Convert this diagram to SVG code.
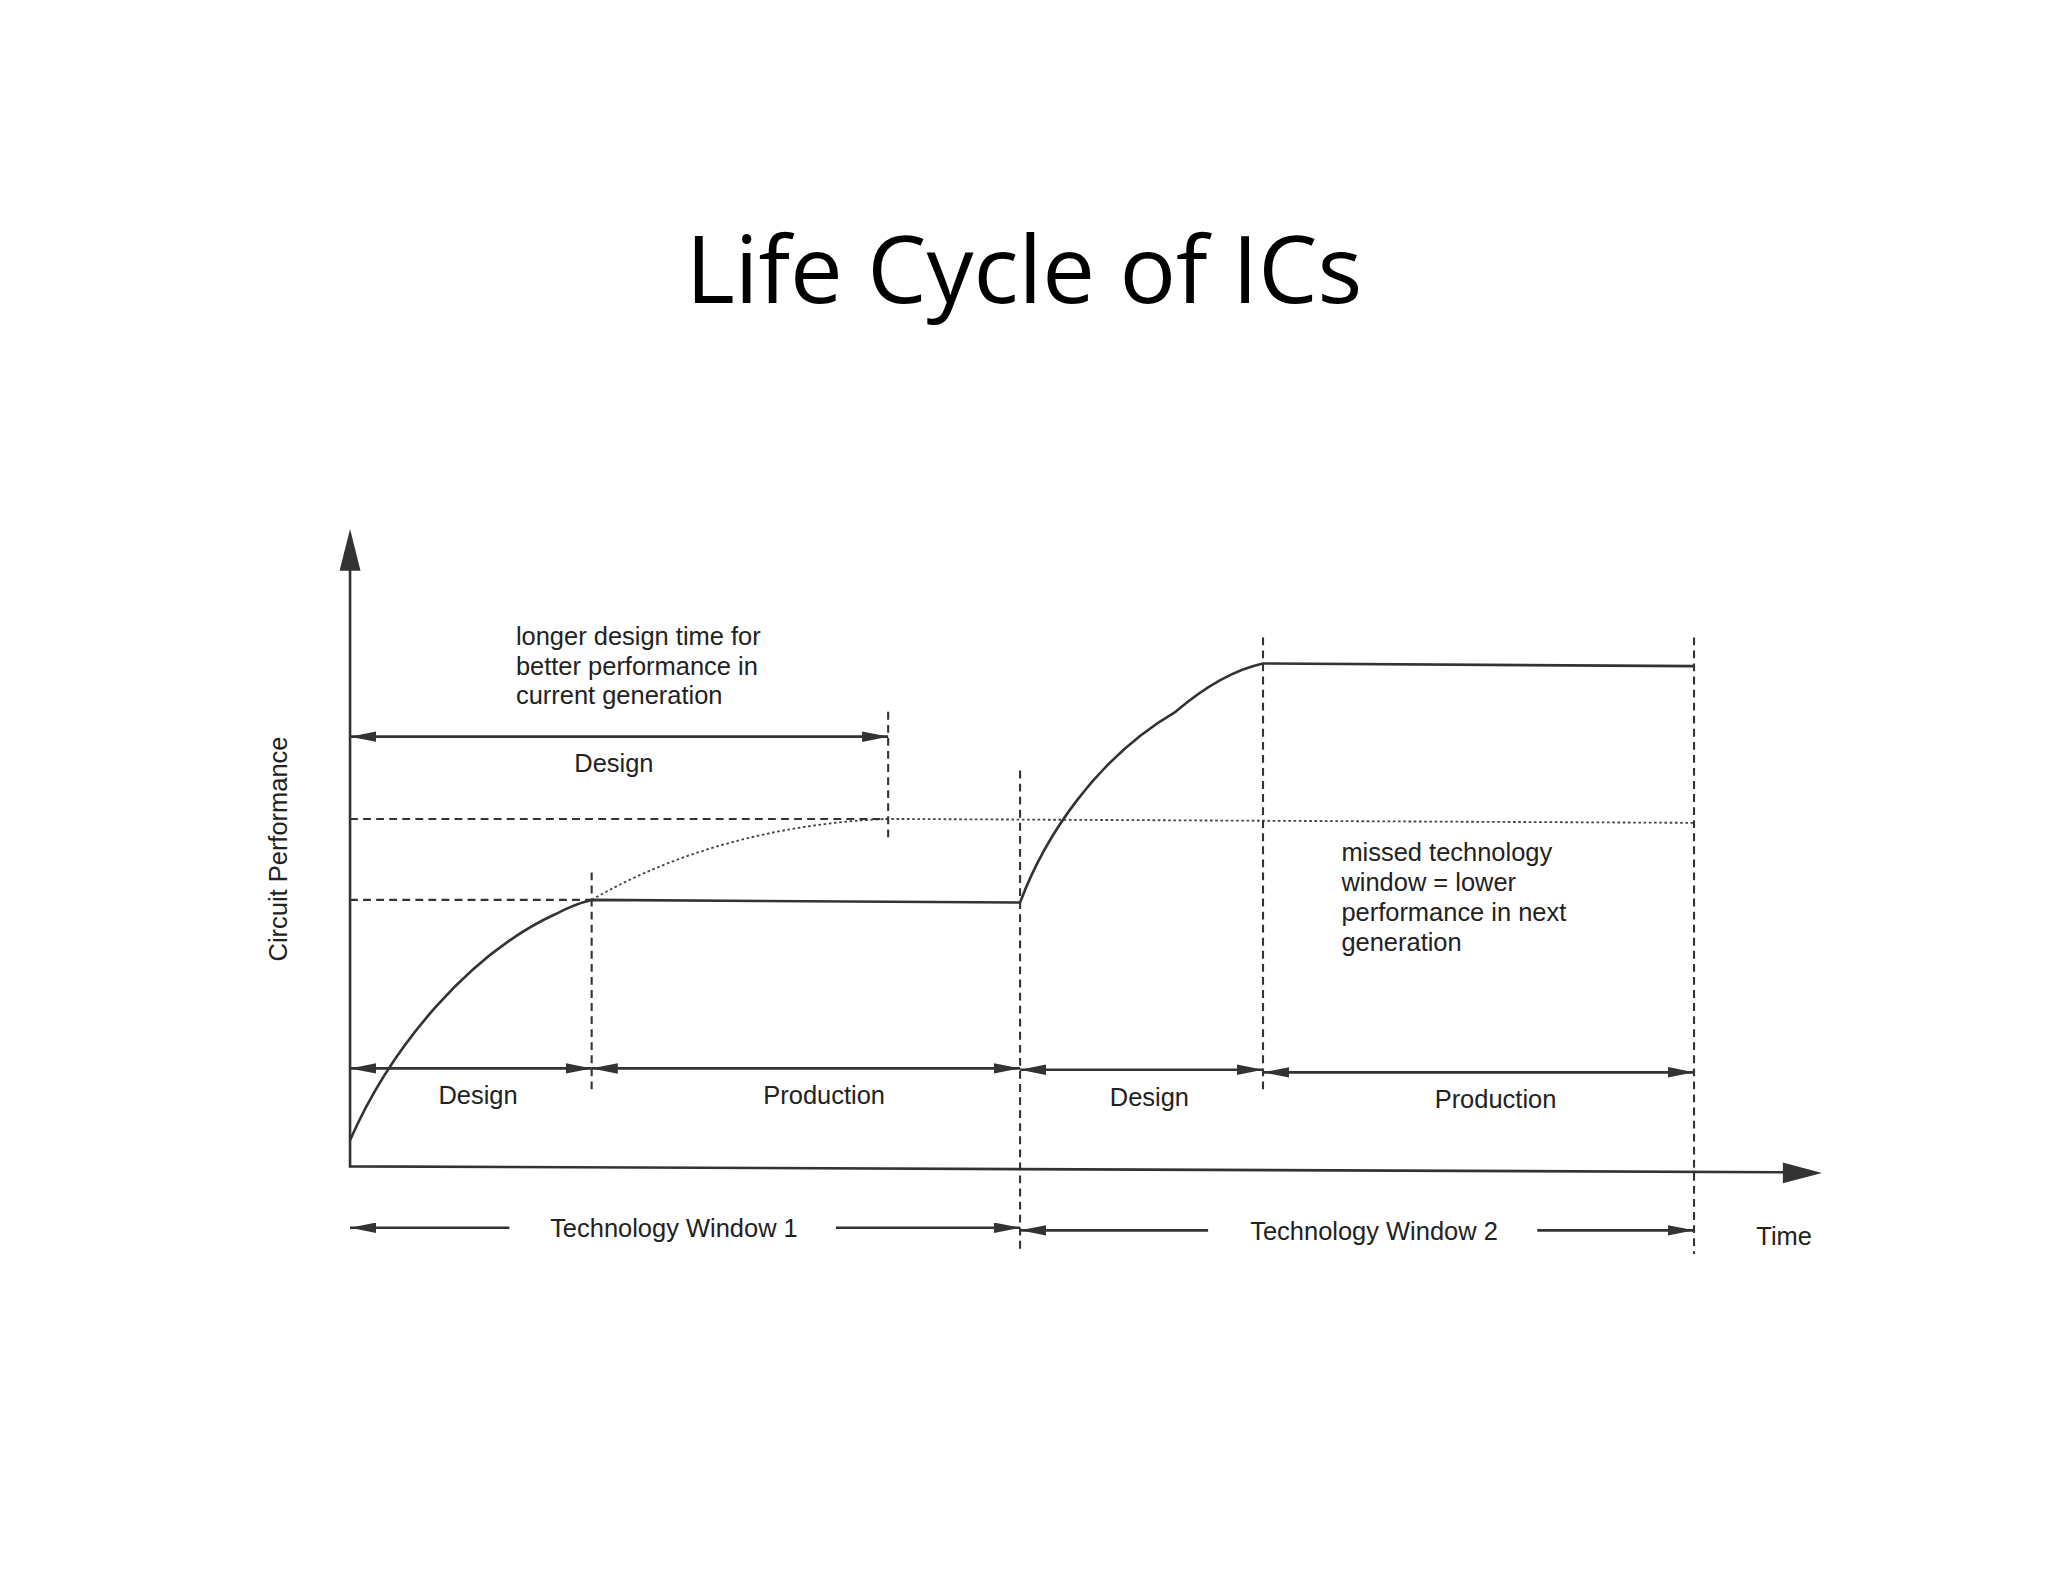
<svg xmlns="http://www.w3.org/2000/svg" width="2048" height="1582" viewBox="0 0 2048 1582">
<style>
.t{font-family:"Liberation Sans",Arial,sans-serif;font-size:19.5px;fill:#222}
.c{text-anchor:middle}
.s{stroke:#333;stroke-width:2;fill:none}
.d{stroke:#333;stroke-width:1.6;fill:none;stroke-dasharray:6,4}
.o{stroke:#444;stroke-width:1.4;fill:none;stroke-dasharray:2,2}
</style>
<defs>
<marker id="a" viewBox="0 0 20 8" refX="20" refY="4" markerWidth="20" markerHeight="8" markerUnits="userSpaceOnUse" orient="auto-start-reverse"><path d="M0,0 L20,4 L0,8 Z" fill="#333"/></marker>
<marker id="b" viewBox="0 0 16 30" refX="8" refY="0" markerWidth="16" markerHeight="30" markerUnits="userSpaceOnUse" orient="0"><path d="M8,0 L16,30 L0,30 Z" fill="#333"/></marker>
</defs>
<rect width="2048" height="1582" fill="#fff"/>
<text x="1024" y="303" text-anchor="middle" font-family="'Open Sans','Noto Sans',sans-serif" font-size="94" fill="#000">Life Cycle of ICs</text>
<g transform="scale(1.30612)">
<g id="axes">
<path class="s" d="M268,435 V893 L1370,897.5" stroke-width="2.6"/>
<path d="M268,405 L276,437 L260,437 Z" fill="#333"/>
<path d="M1395,898 L1365,890 L1365,906 Z" fill="#333"/>
<text class="t c" transform="translate(220,650) rotate(-90)" font-size="22">Circuit Performance</text>
<text class="t c" x="1366" y="953" font-size="24">Time</text>
</g>
<g id="connectors">
<path class="s" d="M268,873 C300,800 360,730 425,700 Q440,692 453,689 L781,691 C800,640 840,580 900,545 Q935,515 967,508 L1297,510"/>
<path class="o" d="M453,689 C520,650 600,630 680,627 L1297,630"/>
<path class="d" d="M268,627 H680 M268,689 H453"/>
<path class="d" d="M680,545 V645 M453,668 V835 M781,590 V958 M967,488 V835 M1297,488 V960"/>
<path class="s" marker-start="url(#a)" marker-end="url(#a)" d="M268,564 H680"/>
<path class="s" marker-start="url(#a)" marker-end="url(#a)" d="M268,818 H453"/>
<path class="s" marker-start="url(#a)" marker-end="url(#a)" d="M453,818 H781"/>
<path class="s" marker-start="url(#a)" marker-end="url(#a)" d="M781,819 H967"/>
<path class="s" marker-start="url(#a)" marker-end="url(#a)" d="M967,821 H1297"/>
<path class="s" marker-start="url(#a)" d="M268,940 H390"/>
<path class="s" marker-end="url(#a)" d="M640,940 H781"/>
<path class="s" marker-start="url(#a)" d="M781,942 H925"/>
<path class="s" marker-end="url(#a)" d="M1177,942 H1297"/>
</g>
<g id="labels">
<text class="t" x="395" y="494">longer design time for</text>
<text class="t" x="395" y="517">better performance in</text>
<text class="t" x="395" y="539">current generation</text>
<text class="t c" x="470" y="591" font-size="21">Design</text>
<text class="t" x="1027" y="659">missed technology</text>
<text class="t" x="1027" y="682">window = lower</text>
<text class="t" x="1027" y="705">performance in next</text>
<text class="t" x="1027" y="728">generation</text>
<text class="t c" x="366" y="845" font-size="21">Design</text>
<text class="t c" x="631" y="845" font-size="21">Production</text>
<text class="t c" x="880" y="847" font-size="21">Design</text>
<text class="t c" x="1145" y="848" font-size="21">Production</text>
<text class="t c" x="516" y="947" font-size="21">Technology Window 1</text>
<text class="t c" x="1052" y="949" font-size="21">Technology Window 2</text>
</g>
</g>
</svg>
